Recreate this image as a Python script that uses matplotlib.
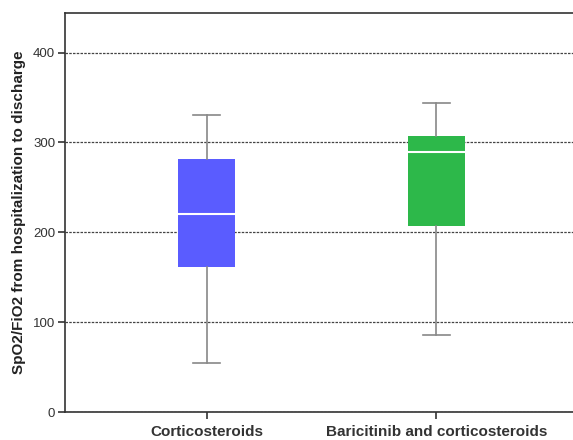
import matplotlib
matplotlib.use("Agg")
import matplotlib.pyplot as plt

categories = ["Corticosteroids", "Baricitinib and corticosteroids"]
whislo = [54, 86]
q1 = [161, 207]
med = [220, 289]
q3 = [282, 307]
whishi = [331, 344]
colors = ["#5A5CFF", "#2DB84A"]
yticks = [0, 100, 200, 300, 400]

plt.rcParams['font.family'] = ['Liberation Sans', 'DejaVu Sans']

fig = plt.figure(figsize=(5.73, 4.40), dpi=100)
ax = fig.add_axes([65/573, 1 - 412/440, (578 - 65)/573, (412 - 13)/440])

stats = []
for i, c in enumerate(categories):
    stats.append(dict(label=c, whislo=whislo[i], q1=q1[i], med=med[i],
                      q3=q3[i], whishi=whishi[i], fliers=[]))

bp = ax.bxp(stats, positions=[1, 2], widths=0.245, patch_artist=True,
            showfliers=False, zorder=3,
            boxprops=dict(linewidth=0),
            medianprops=dict(color="white", linewidth=1.5),
            whiskerprops=dict(color="#888888", linewidth=1.2),
            capprops=dict(color="#888888", linewidth=1.2),
            capwidths=0.12)
for patch, col in zip(bp['boxes'], colors):
    patch.set_facecolor(col)
    patch.set_edgecolor(col)

ax.set_xlim(0.384, 2.616)
ax.set_ylim(0, 444)
ax.set_yticks(yticks)
ax.set_yticklabels([str(v) for v in yticks], fontsize=9.5, color="#444444")
ax.set_xticks([1, 2])
ax.set_xticklabels(categories, fontsize=11, fontweight="bold", color="#222222")
ax.yaxis.grid(True, linestyle=(0, (2, 1)), color="#444444", linewidth=0.9, zorder=0)
ax.set_axisbelow(True)
ax.set_ylabel("SpO2/FiO2 from hospitalization to discharge", fontsize=11,
              fontweight="bold", color="#222222", labelpad=5)
for s in ["left", "bottom", "top", "right"]:
    ax.spines[s].set_color("#333333")
    ax.spines[s].set_linewidth(1.2)
ax.tick_params(axis="both", colors="#333333", length=5, width=1.2)
ax.tick_params(axis="y", pad=2)
ax.tick_params(axis="x", pad=4)

fig.savefig("out.png", dpi=100)
